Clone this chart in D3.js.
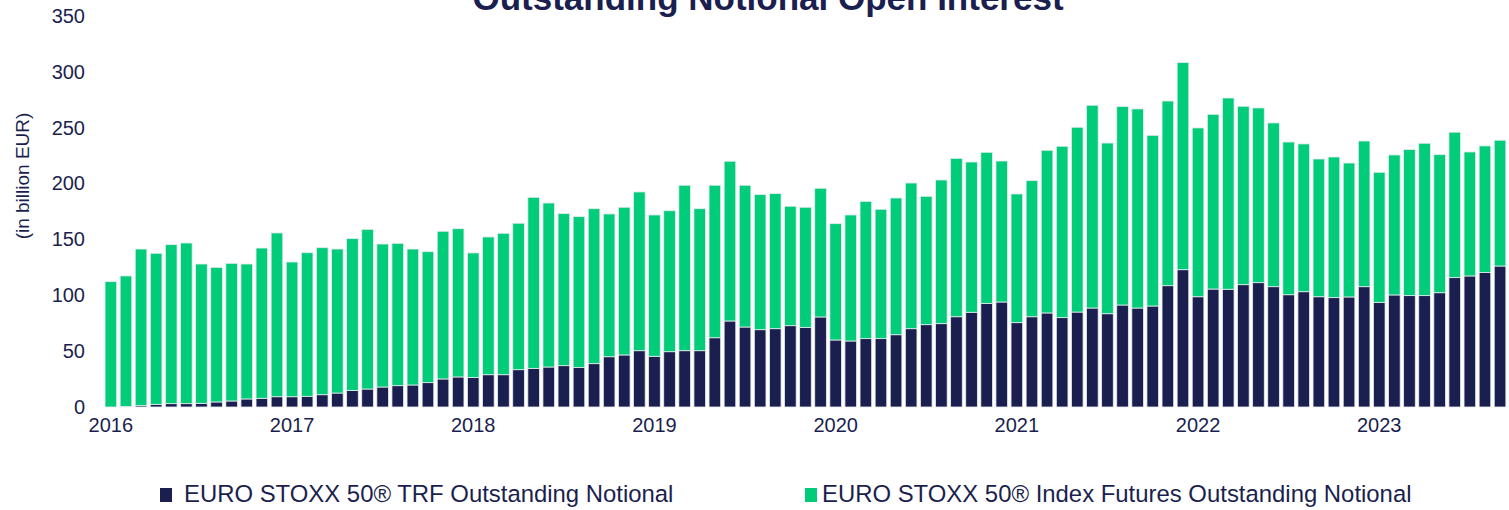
<!DOCTYPE html>
<html>
<head>
<meta charset="utf-8">
<script src="https://cdn.jsdelivr.net/npm/d3@7"></script>
<style>
  body { margin: 0; background: #ffffff; }
  text { font-family: "Liberation Sans", Arial, sans-serif; fill: #1b1f4f; }
</style>
</head>
<body>
<svg class="svg1" width="1509" height="510"></svg>
<script>
// monthly, Jan 2016 .. Sep 2023 (in billion EUR)
var months = d3.range(93).map(function(i) { return new Date(2016, i, 1); });

var trfValues = [
    0, 0.4, 1.2, 2.4, 3, 3, 3.3, 4.5, 5.4, 7.2, 7.8, 9.2,
    9.2, 9.6, 11, 12.5, 14.9, 16.1, 17.9, 19.1, 19.7, 21.8, 25.1, 26.9,
    26.3, 28.9, 28.9, 33.4, 34.6, 35.8, 37, 35.5, 38.8, 45, 46.6, 50.4,
    45.4, 49.5, 50.4, 50.4, 62, 77, 71.6, 69.2, 70.1, 72.8, 71.3, 80.6,
    60, 59.1, 61.2, 61.2, 64.7, 70.1, 73.7, 74.6, 80.8, 84.8, 92.8, 94,
    75.5, 80.8, 84.2, 80, 85, 88.6, 83.5, 91.3, 88.6, 90.4, 108.6, 122.9,
    98.7, 105.6, 105.4, 109.5, 111.3, 107.7, 100.5, 103.2, 98.7, 97.9, 98.5, 107.7,
    93.7, 100.3, 99.7, 99.7, 102.3, 115.8, 117.3, 120.3, 126.2
];

var totalValues = [
    112.2, 117.3, 141.4, 137.6, 145.3, 146.8, 128, 125, 128.6, 128, 142.3, 155.8,
    129.8, 138.1, 142.6, 141.4, 150.7, 159, 145.9, 146.5, 141.4, 139, 157.3, 159.6,
    137.9, 152.2, 155.5, 164.5, 187.7, 182.6, 173.1, 170.4, 177.5, 172.8, 178.8, 192.5,
    171.9, 175.7, 198.5, 177.5, 198.5, 220, 198.5, 190.1, 191, 179.7, 178.8, 195.8,
    164.1, 171.9, 184.1, 177, 187.1, 200.5, 188.6, 203.2, 222.6, 219.3, 228, 220.2,
    190.7, 202.6, 229.8, 233.4, 250.4, 270.1, 236.3, 268.9, 266.8, 243.2, 273.9, 308.3,
    249.8, 262, 276.6, 269.2, 267.7, 254.3, 237.2, 235.5, 222, 223.8, 218.4, 238.1,
    210.1, 225.6, 230.4, 236.1, 225.9, 246, 228.3, 233.7, 238.8
];

var futuresValues = totalValues.map(function(d, i) { return +(d - trfValues[i]).toFixed(1); });

var yTicks = [0, 50, 100, 150, 200, 250, 300, 350];
var seriesNames = ["EURO STOXX 50® TRF Outstanding Notional", "EURO STOXX 50® Index Futures Outstanding Notional"];
var seriesColors = ["#1b1f4f", "#00cc7a"];

var svg = d3.select(".svg1");

var rows = months.map(function(m, i) { return { month: m, trf: trfValues[i], fut: futuresValues[i] }; });
var stacked = d3.stack().keys(["trf", "fut"])(rows);

var scaleX = d3.scaleBand()
    .domain(months)
    .range([103.3, 1507.6])
    .paddingInner(0.23)
    .paddingOuter(0.115);

var scaleY = d3.scaleLinear()
    .domain([0, 350])
    .range([407, 16]);

// title (cut at the top, as in the source)
svg.append("text")
    .attr("x", 768)
    .attr("y", 10)
    .attr("text-anchor", "middle")
    .style("font-size", "35px")
    .style("font-weight", "bold")
    .text("Outstanding Notional Open Interest");

// bars
svg.selectAll(".layer")
    .data(stacked)
    .enter()
    .append("g")
    .attr("class", "layer")
    .attr("fill", function(d, i) { return seriesColors[i]; })
    .selectAll("rect")
    .data(function(d) { return d; })
    .enter()
    .append("rect")
    .attr("x", function(d) { return scaleX(d.data.month); })
    .attr("width", scaleX.bandwidth())
    .attr("y", function(d) { return scaleY(d[1]); })
    .attr("height", function(d) { return scaleY(d[0]) - scaleY(d[1]); })
    .attr("stroke", "#e6ecef")
    .attr("stroke-width", 0.8);

// y axis
var yAxis = d3.axisLeft(scaleY).tickValues(yTicks).tickSize(0).tickPadding(0);
var gy = svg.append("g")
    .attr("transform", "translate(85,0)")
    .call(yAxis);
gy.select(".domain").remove();
gy.selectAll("text")
    .style("font-size", "20px")
    .style("font-family", "Liberation Sans, Arial, sans-serif")
    .attr("fill", "#1b1f4f");

// x axis, years at january bars
var janMonths = months.filter(function(m) { return m.getMonth() == 0; });
var xAxis = d3.axisBottom(scaleX)
    .tickValues(janMonths)
    .tickSize(0)
    .tickPadding(0)
    .tickFormat(d3.timeFormat("%Y"));
var gx = svg.append("g")
    .attr("transform", "translate(0,418)")
    .call(xAxis);
gx.select(".domain").remove();
gx.selectAll("text")
    .style("font-size", "20px")
    .style("font-family", "Liberation Sans, Arial, sans-serif")
    .attr("fill", "#1b1f4f");

// y title
svg.append("text")
    .attr("transform", "translate(29,176) rotate(-90)")
    .attr("text-anchor", "middle")
    .style("font-size", "19px")
    .text("(in billion EUR)");

// legend
var legendX = [160, 805];
var legendTextX = [24, 17];
var legend = svg.selectAll(".legend")
    .data(seriesNames)
    .enter()
    .append("g")
    .attr("class", "legend")
    .attr("transform", function(d, i) { return "translate(" + legendX[i] + ",488)"; });

legend.append("rect")
    .attr("width", 12)
    .attr("height", 14)
    .attr("fill", function(d, i) { return seriesColors[i]; });

legend.append("text")
    .attr("x", function(d, i) { return legendTextX[i]; })
    .attr("y", 14)
    .style("font-size", "23.9px")
    .text(function(d) { return d; });
</script>
</body>
</html>
